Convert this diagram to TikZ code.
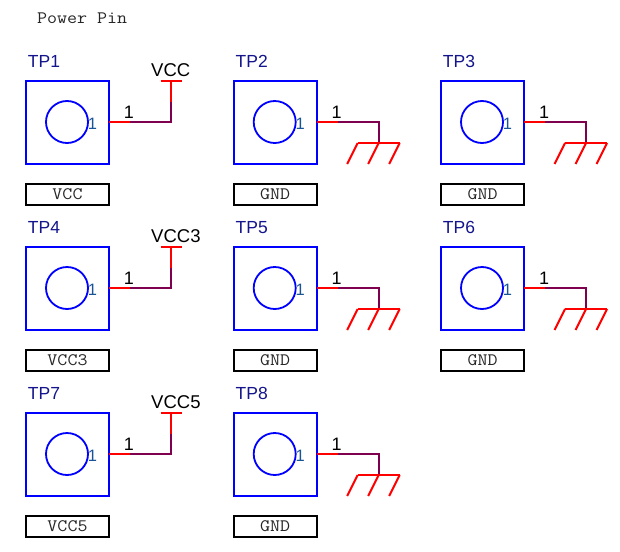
\documentclass[tikz,border=0pt]{standalone}
\usepackage{fontspec}
\setmainfont{Liberation Sans}
\setmonofont{Latin Modern Mono}[FakeStretch=1.11]
\definecolor{pinblue}{RGB}{0,0,255}
\definecolor{navyt}{RGB}{20,20,140}
\definecolor{numblue}{RGB}{25,85,150}
\definecolor{wirered}{RGB}{255,0,0}
\definecolor{wiredark}{RGB}{128,0,80}
\tikzset{
  x=1pt,y=-1pt,
  padbox/.style={draw=pinblue,line width=1.8pt,minimum width=83pt,minimum height=83pt,inner sep=0pt,outer sep=0pt},
  padhole/.style={circle,draw=pinblue,line width=1.8pt,minimum size=42pt,inner sep=0pt,outer sep=0pt},
  refname/.style={text=navyt,font=\fontsize{17.5}{18}\selectfont,inner sep=0pt},
  padnum/.style={text=numblue,font=\fontsize{16.5}{17}\selectfont,inner sep=0pt},
  pinnum/.style={text=black,font=\fontsize{18}{19}\selectfont,inner sep=0pt},
  railname/.style={text=black,font=\fontsize{18.5}{20}\selectfont,inner sep=0pt,anchor=west},
  netbox/.style={draw=black,line width=1.8pt,minimum width=83pt,minimum height=21pt,inner sep=0pt,outer sep=0pt,font=\ttfamily\fontsize{17.5}{18}\selectfont,text=black!85},
  titletext/.style={font=\ttfamily\fontsize{17.5}{18}\selectfont,text=black!85,inner sep=0pt},
  redwire/.style={draw=wirered,line width=2pt},
  darkwire/.style={draw=wiredark,line width=2pt}
}
% id, x, y, ref, net box label
\newcommand{\tpad}[5]{%
  \node[padbox] (box#1) at (#2+41.5,#3+41.5) {};
  \node[padhole] (hole#1) at (#2+41,#3+41) {};
  \node[padnum] at (#2+66.5,#3+43) {1};
  \node[refname] (ref#1) at (#2+18,#3-19.5) {#4};
  \node[netbox] (net#1) at (#2+41.5,#3+113.5) {#5};
  \coordinate (p#1) at (#2+83,#3+41);
  \coordinate (q#1) at (#2+104,#3+41);
  \coordinate (c#1) at (#2+145,#3+41);
  \node[pinnum] (num#1) at (#2+103,#3+31) {1};
  \draw[darkwire,line cap=rect] (q#1) -- (c#1);
  \draw[redwire] (p#1) -- (q#1);
}
\newcommand{\vccrail}[3]{%
  \coordinate (m#1) at ([yshift=20pt]c#1);
  \coordinate (t#1) at ([yshift=41pt]c#1);
  \node[railname] (rail#1) at ([xshift=-20pt,yshift=51.5pt]c#1) {#2};
  \draw[darkwire] (c#1) -- (m#1);
  \draw[redwire] (m#1) -- (t#1);
  \draw[redwire] ([xshift=-10.5pt]t#1) -- ([xshift=10.5pt]t#1);
}
\newcommand{\gndrail}[1]{%
  \coordinate (g#1) at ([yshift=-21pt]c#1);
  \draw[darkwire] (c#1) -- (g#1);
  \draw[redwire] ([xshift=-21pt]g#1) -- ([xshift=21pt]g#1);
  \foreach \d in {-21,0,21} \draw[redwire] ([xshift=\d pt]g#1) -- ([xshift=\d pt-10.5pt,yshift=-21pt]g#1);
}
\begin{document}
\begin{tikzpicture}
\useasboundingbox (0,0) rectangle (620,551);
\node[titletext,anchor=west] (title) at (37,18) {Power Pin};
\tpad{1}{26}{81}{TP1}{VCC}
\tpad{2}{233.7}{81}{TP2}{GND}
\tpad{3}{441}{81}{TP3}{GND}
\tpad{4}{26}{247}{TP4}{VCC3}
\tpad{5}{233.7}{247}{TP5}{GND}
\tpad{6}{441}{247}{TP6}{GND}
\tpad{7}{26}{413}{TP7}{VCC5}
\tpad{8}{233.7}{413}{TP8}{GND}
\vccrail{1}{VCC}{}
\vccrail{4}{VCC3}{}
\vccrail{7}{VCC5}{}
\gndrail{2}
\gndrail{3}
\gndrail{5}
\gndrail{6}
\gndrail{8}
\end{tikzpicture}
\end{document}
